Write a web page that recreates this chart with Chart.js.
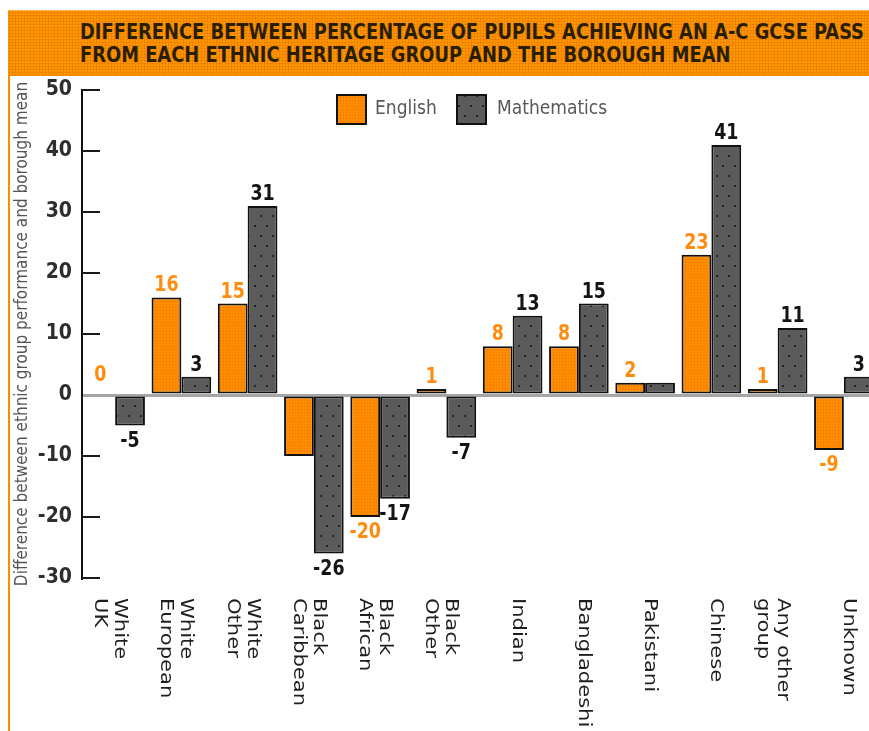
<!DOCTYPE html>
<html>
<head>
<meta charset="utf-8">
<script src="https://cdn.jsdelivr.net/npm/chart.js@4.4.1/dist/chart.umd.min.js"></script>
<style>
  html, body { margin: 0; padding: 0; background: #fff; overflow: hidden; width: 869px; height: 731px; }
  #frame { position: absolute; left: 8px; top: 10px; width: 2px; height: 721px; background: #ff8c00; }
  #header {
    position: absolute; left: 8px; top: 10px; width: 861px; height: 66px;
    background-color: #ff9500;
    background-image: radial-gradient(circle, #e87c00 0.8px, transparent 1.2px);
    background-size: 3px 3px;
    border-top: 1px solid #ffb347; box-sizing: border-box;
  }
  .tl {
    position: absolute; left: 72px; white-space: nowrap;
    font-family: 'Liberation Sans Narrow', 'DejaVu Sans Condensed', sans-serif;
    font-weight: bold; font-size: 21px; line-height: 21px; color: #2a1e00;
    transform-origin: 0 0;
  }
  #chart { position: absolute; left: 0; top: 0; }
</style>
</head>
<body>
<div id="frame"></div>
<div id="header">
  <div class="tl" id="t1" style="top:11px">DIFFERENCE BETWEEN PERCENTAGE OF PUPILS ACHIEVING AN A-C GCSE PASS</div>
  <div class="tl" id="t2" style="top:34px">FROM EACH ETHNIC HERITAGE GROUP AND THE BOROUGH MEAN</div>
</div>
<canvas id="chart" width="880" height="731"></canvas>
<script>
// Ethnic heritage groups (multi-line labels)
const categories = [
  ['White', 'UK'], ['White', 'European'], ['White', 'Other'],
  ['Black', 'Caribbean'], ['Black', 'African'], ['Black', 'Other'],
  ['Indian'], ['Bangladeshi'], ['Pakistani'], ['Chinese'],
  ['Any other', 'group'], ['Unknown']
];
// Difference from borough mean, percentage points
const english = [0, 16, 15, -10, -20, 1, 8, 8, 2, 23, 1, -9];
const maths   = [-5, 3, 31, -26, -17, -7, 13, 15, 2, 41, 11, 3];
// Which bars carry a printed value
const englishLabelled = [true, true, true, false, true, true, true, true, true, true, true, true];
const mathsLabelled   = [true, true, true, true, true, true, true, true, false, true, true, true];
// Y axis ticks
const yTickValues = [-30, -20, -10, 0, 10, 20, 30, 40, 50];

const narrow = "'Liberation Sans Narrow', 'DejaVu Sans Condensed', sans-serif";

// fit the two-line heading into the banner width
(function () {
  const t1 = document.getElementById('t1');
  const t2 = document.getElementById('t2');
  const s = 784 / t1.getBoundingClientRect().width;
  t1.style.transform = 'scaleX(' + s + ')';
  t2.style.transform = 'scaleX(' + s + ')';
})();

function dotPattern(base, dot, w, h, pts, size) {
  const c = document.createElement('canvas');
  c.width = w; c.height = h;
  const g = c.getContext('2d');
  g.fillStyle = base; g.fillRect(0, 0, w, h);
  g.fillStyle = dot;
  pts.forEach(p => g.fillRect(p[0], p[1], size, size));
  return g.createPattern(c, 'repeat');
}
const orangeFill = dotPattern('#ff8c00', '#e97400', 3, 3, [[1, 1]], 1);
const greyFill = dotPattern('#5b5b5b', '#262626', 12, 20, [[2, 5], [8, 15]], 2);

// short tick marks drawn inward from the value axis
const innerTicks = {
  id: 'innerTicks',
  afterDatasetsDraw(chart) {
    const y = chart.scales.y, ctx = chart.ctx, left = chart.chartArea.left;
    ctx.save();
    ctx.strokeStyle = '#1a1a1a'; ctx.lineWidth = 2;
    y.ticks.forEach(t => {
      if (t.value === 0) return;
      const py = Math.round(y.getPixelForValue(t.value));
      ctx.beginPath(); ctx.moveTo(left, py); ctx.lineTo(left + 18, py); ctx.stroke();
    });
    ctx.restore();
  }
};

// printed values above / below bars
const valueLabels = {
  id: 'valueLabels',
  afterDatasetsDraw(chart) {
    const ctx = chart.ctx;
    chart.data.datasets.forEach((ds, di) => {
      const meta = chart.getDatasetMeta(di);
      meta.data.forEach((bar, i) => {
        if (!ds.labelled[i]) return;
        const v = ds.data[i];
        ctx.save();
        ctx.font = 'bold 22px ' + narrow;
        ctx.fillStyle = ds.labelColor;
        ctx.textAlign = 'center';
        ctx.textBaseline = 'alphabetic';
        ctx.translate(bar.x, v >= 0 ? bar.y - (v === 0 ? 14 : 6) : bar.y + 21);
        ctx.scale(0.88, 1);
        ctx.fillText(String(v), 0, 0);
        ctx.restore();
      });
    });
  }
};

// category names, rotated to read downwards
const catLabels = {
  id: 'catLabels',
  afterDraw(chart) {
    const x = chart.scales.x, ctx = chart.ctx;
    const top = chart.chartArea.bottom + 20;
    ctx.save();
    ctx.font = '18px "DejaVu Sans", sans-serif';
    ctx.fillStyle = '#1e1e1e';
    ctx.textAlign = 'left';
    ctx.textBaseline = 'alphabetic';
    chart.data.labels.forEach((lab, i) => {
      const lines = Array.isArray(lab) ? lab : [lab];
      const cx = x.getPixelForValue(i);
      lines.forEach((ln, j) => {
        ctx.save();
        ctx.translate(cx - j * 20, top);
        ctx.rotate(Math.PI / 2);
        ctx.scale(1.17, 1);
        ctx.fillText(ln, 0, 0);
        ctx.restore();
      });
    });
    ctx.restore();
  }
};

// legend sitting inside the plot, top centre
const boxLegend = {
  id: 'boxLegend',
  afterDraw(chart) {
    const ctx = chart.ctx;
    const items = [
      { x: 336, fill: orangeFill, tx: 375 },
      { x: 456, fill: greyFill, tx: 497 }
    ];
    ctx.save();
    items.forEach((it, k) => {
      ctx.fillStyle = it.fill;
      ctx.fillRect(it.x, 94, 31, 31);
      ctx.strokeStyle = '#111'; ctx.lineWidth = 2;
      ctx.strokeRect(it.x + 1, 95, 29, 29);
      ctx.font = '19px "DejaVu Sans Condensed", "DejaVu Sans", sans-serif';
      ctx.fillStyle = '#585858';
      ctx.textBaseline = 'alphabetic';
      ctx.textAlign = 'left';
      ctx.fillText(chart.data.datasets[k].label, it.tx, 114);
    });
    ctx.restore();
  }
};

new Chart(document.getElementById('chart'), {
  type: 'bar',
  data: {
    labels: categories,
    datasets: [
      {
        label: 'English', data: english, labelled: englishLabelled, labelColor: '#ff8c0f',
        backgroundColor: orangeFill, borderColor: '#111', borderWidth: 2, borderSkipped: false
      },
      {
        label: 'Mathematics', data: maths, labelled: mathsLabelled, labelColor: '#141414',
        backgroundColor: greyFill, borderColor: '#111', borderWidth: 2, borderSkipped: false
      }
    ]
  },
  options: {
    responsive: false,
    animation: false,
    devicePixelRatio: 1,
    layout: { padding: { left: 0, top: 90, right: 3, bottom: 153 } },
    datasets: { bar: { categoryPercentage: 0.9, barPercentage: 1.0 } },
    plugins: { legend: { display: false }, tooltip: { enabled: false } },
    scales: {
      x: { type: 'category', display: false },
      y: {
        min: -30, max: 50,
        afterBuildTicks(scale) { scale.ticks = yTickValues.map(v => ({ value: v })); },
        afterFit(scale) { scale.width = 82; },
        ticks: {
          padding: 10, color: '#2e2e2e',
          font: { family: narrow, weight: 'bold', size: 21 }
        },
        grid: {
          drawTicks: false,
          lineWidth: 3,
          color: c => (c.tick && c.tick.value === 0) ? '#a6a6a6' : 'rgba(0,0,0,0)'
        },
        border: { display: true, color: '#111', width: 2 },
        title: {
          display: true,
          text: 'Difference between ethnic group performance and borough mean',
          color: '#555',
          font: { family: "'DejaVu Sans Condensed', 'DejaVu Sans', sans-serif", size: 17 },
          padding: { top: 12, bottom: 0 }
        }
      }
    }
  },
  plugins: [innerTicks, valueLabels, catLabels, boxLegend]
});
</script>
</body>
</html>
